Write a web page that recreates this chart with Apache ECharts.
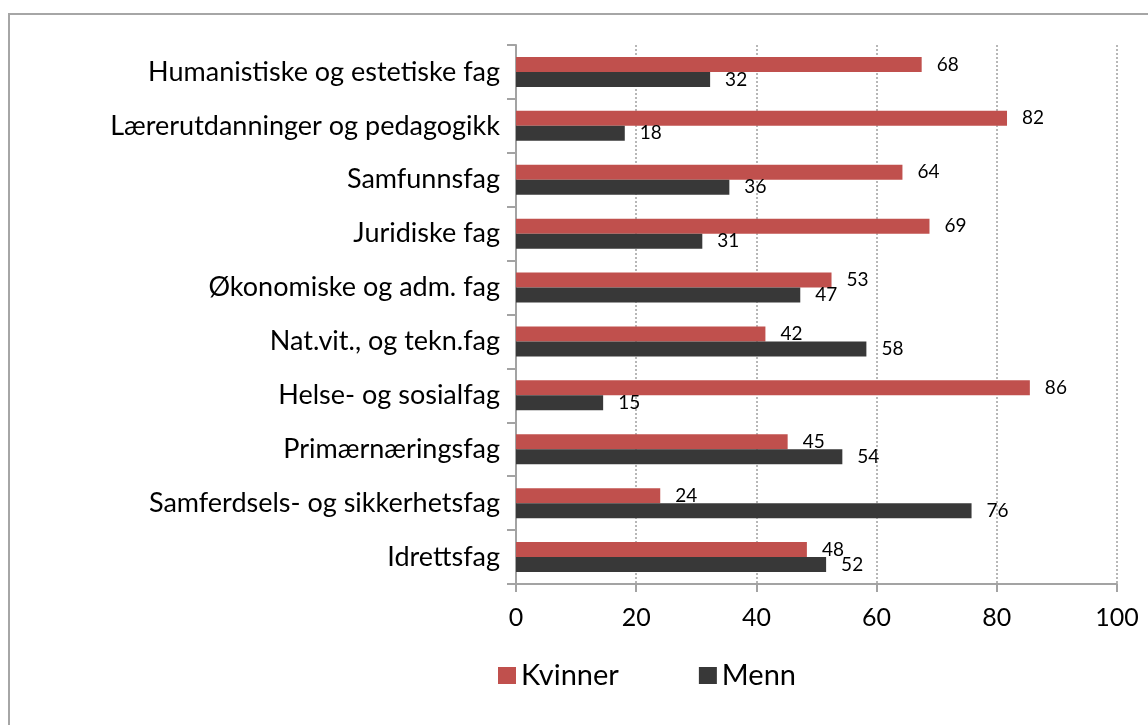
<!DOCTYPE html>
<html>
<head>
<meta charset="utf-8">
<script src="https://cdn.jsdelivr.net/npm/echarts@6/dist/echarts.min.js"></script>
<style>
  html, body { margin: 0; padding: 0; background: #fff; }
  #chart { width: 1148px; height: 725px; }
</style>
</head>
<body>
<div id="chart"></div>
<script>
var categories = [
  'Humanistiske og estetiske fag',
  'Lærerutdanninger og pedagogikk',
  'Samfunnsfag',
  'Juridiske fag',
  'Økonomiske og adm. fag',
  'Nat.vit., og tekn.fag',
  'Helse- og sosialfag',
  'Primærnæringsfag',
  'Samferdsels- og sikkerhetsfag',
  'Idrettsfag'
];
var kvinner = [67.5, 81.7, 64.3, 68.8, 52.5, 41.5, 85.5, 45.2, 24.0, 48.4];
var menn = [32.3, 18.1, 35.5, 31.0, 47.3, 58.3, 14.5, 54.3, 75.8, 51.6];
var xTicks = [0, 20, 40, 60, 80, 100];

var fontName = 'Lato';
var axisColor = '#a3a3a3';

function barLabel() {
  return {
    show: true,
    position: 'right',
    distance: 15,
    color: '#000',
    fontFamily: fontName,
    fontSize: 19,
    formatter: function(p) { return Math.round(p.value); }
  };
}

var chart = echarts.init(document.getElementById('chart'));

chart.setOption({
  animation: false,
  backgroundColor: '#fff',
  textStyle: { fontFamily: fontName },
  graphic: [{
    type: 'rect',
    shape: { x: 9, y: 14, width: 1400, height: 900 },
    style: { fill: 'none', stroke: '#a6a6a6', lineWidth: 2 }
  }],
  legend: {
    left: 493,
    top: 656,
    itemWidth: 18,
    itemHeight: 17,
    itemGap: 80,
    icon: 'rect',
    textStyle: { fontFamily: fontName, fontSize: 29, color: '#000' },
    data: ['Kvinner', 'Menn']
  },
  grid: { left: 516, right: 31, top: 45, bottom: 141 },
  xAxis: {
    type: 'value',
    min: xTicks[0],
    max: xTicks[xTicks.length - 1],
    interval: 20,
    axisLine: { show: true, lineStyle: { color: axisColor, width: 2 } },
    axisTick: { show: true, length: 8, lineStyle: { color: axisColor, width: 2 } },
    axisLabel: { color: '#000', fontFamily: fontName, fontSize: 25, margin: 21 },
    splitLine: { show: true, lineStyle: { color: '#a0a0a0', type: [2, 2], width: 1.5 } }
  },
  yAxis: {
    type: 'category',
    inverse: true,
    data: categories,
    axisLine: { show: true, lineStyle: { color: axisColor, width: 2 } },
    axisTick: { show: true, length: 9, lineStyle: { color: axisColor, width: 2 } },
    axisLabel: { color: '#000', fontFamily: fontName, fontSize: 27, margin: 16 }
  },
  series: [{
    name: 'Kvinner',
    type: 'bar',
    data: kvinner,
    barWidth: 15,
    barGap: '0%',
    itemStyle: { color: '#c0504d' },
    label: barLabel()
  }, {
    name: 'Menn',
    type: 'bar',
    data: menn,
    barWidth: 15,
    barGap: '0%',
    itemStyle: { color: '#383838' },
    label: barLabel()
  }]
});
</script>
</body>
</html>
